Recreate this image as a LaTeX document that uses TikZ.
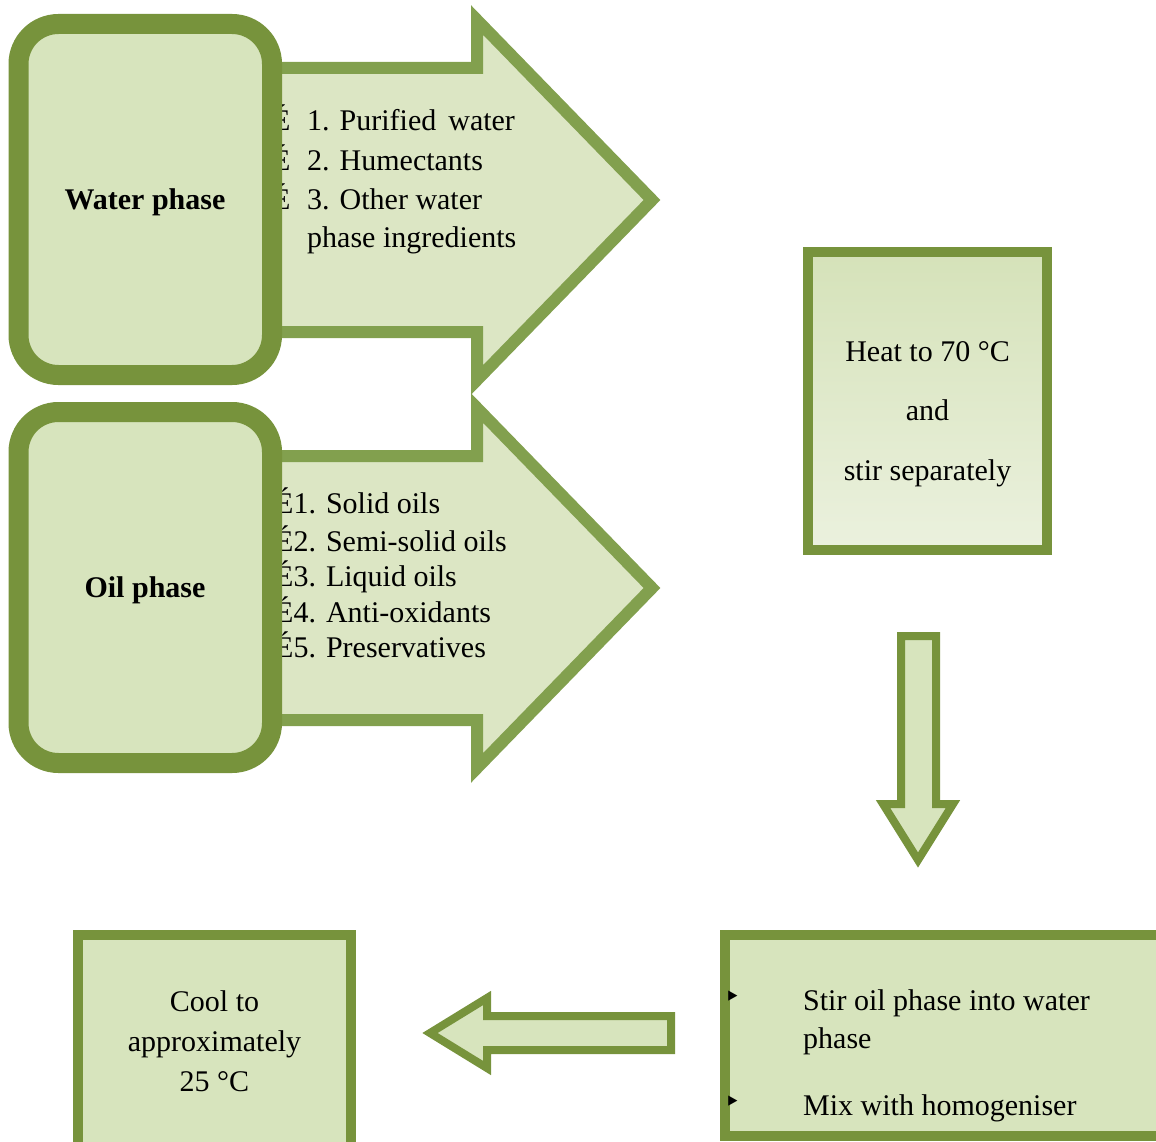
\documentclass[tikz,border=0pt]{standalone}
\usepackage{fontspec}
\setmainfont{Liberation Serif}
\newfontfamily\dejavu{DejaVu Sans}
\definecolor{boxline}{HTML}{77933C}
\definecolor{boxfill}{HTML}{D7E4BD}
\definecolor{arrline}{HTML}{82A04E}
\definecolor{arrfill}{HTML}{DCE6C4}
\definecolor{heattop}{HTML}{D5E2B9}
\definecolor{heatbot}{HTML}{EBF1DE}
\begin{document}
\begin{tikzpicture}[x=1pt,y=-1pt,
  phasebox/.style={draw=boxline, fill=boxfill, line width=20pt, rounded corners=40pt,
    minimum width=253.5pt, minimum height=351pt, inner sep=0pt},
  phaselabel/.style={font=\fontsize{30}{36}\selectfont\bfseries, inner sep=0pt, anchor=base},
  bigarrow/.style={draw=arrline, fill=arrfill, line width=12pt},
  smallarrow/.style={draw=boxline, fill=boxfill, line width=8pt},
  stepbox/.style={draw=boxline, line width=10pt, inner sep=0pt},
  txt/.style={font=\fontsize{30}{36}\selectfont, inner sep=0pt, anchor=base west},
  ctxt/.style={font=\fontsize{30}{36}\selectfont, inner sep=0pt, anchor=base},
  bul/.style={font=\dejavu\fontsize{28}{28}\selectfont, inner sep=0pt, anchor=west},
]
\clip (0,0) rectangle (1156,1142);
\useasboundingbox (0,0) rectangle (1156,1142);

% big block arrows
\draw[bigarrow] (262,68) -- (477,68) -- (477,20) -- (652,200) -- (477,380) -- (477,332) -- (262,332) -- cycle;
\draw[bigarrow] (262,456) -- (477,456) -- (477,408) -- (652,588) -- (477,768) -- (477,720) -- (262,720) -- cycle;

% water list
\node[txt] (wb1) at (272,131) {É};
\node[txt] (wb2) at (272,171) {É};
\node[txt] (wb3) at (272,210) {É};
\node[txt] (w1) at (307,131) {1. Purified\hspace{12pt}water};
\node[txt] (w2) at (307,171) {2. Humectants};
\node[txt] (w3) at (307,210) {3. Other water};
\node[txt] (w4) at (307,247) {phase ingredients};

% oil list
\node[txt] (o1) at (275,513) {É1. Solid oils};
\node[txt] (o2) at (275,551) {É2. Semi-solid oils};
\node[txt] (o3) at (275,586) {É3. Liquid oils};
\node[txt] (o4) at (275,622) {É4. Anti-oxidants};
\node[txt] (o5) at (275,657) {É5. Preservatives};

% phase boxes
\node[phasebox] (water) at (145.25,199.5) {};
\node[phaselabel] (waterlbl) at (145,209) {Water phase};
\node[phasebox] (oil) at (145.25,587.5) {};
\node[phaselabel] (oillbl) at (145,597) {Oil phase};

% heat box
\node[stepbox, top color=heattop, bottom color=heatbot, minimum width=239pt, minimum height=298pt] (heat) at (927.5,401) {};
\node[ctxt] (h1) at (927.5,361) {Heat to 70 °C};
\node[ctxt] (h2) at (927.5,420) {and};
\node[ctxt] (h3) at (927.5,480) {stir separately};

% down arrow
\draw[smallarrow] (901,636) -- (936,636) -- (936,804) -- (953,804) -- (918,860) -- (883,804) -- (901,804) -- cycle;

% stir box
\node[stepbox, fill=boxfill, minimum width=450pt, minimum height=201pt] (stir) at (950,1035.5) {};
\node[bul] (sb1) at (724,999) {‣};
\node[bul] (sb2) at (724,1104) {‣};
\node[txt] (s1) at (803,1010) {Stir oil phase into water};
\node[txt] (s2) at (803,1048) {phase};
\node[txt] (s3) at (803,1115) {Mix with homogeniser};

% left arrow
\draw[smallarrow] (671,1016) -- (487,1016) -- (487,998) -- (430,1033) -- (487,1068) -- (487,1050) -- (671,1050) -- cycle;

% cool box
\node[stepbox, fill=boxfill, minimum width=273pt, minimum height=212pt,
  align=center, font=\fontsize{30}{40}\selectfont] (cool) at (214.5,1041) {Cool to\\approximately\\25 °C};
\end{tikzpicture}
\end{document}
